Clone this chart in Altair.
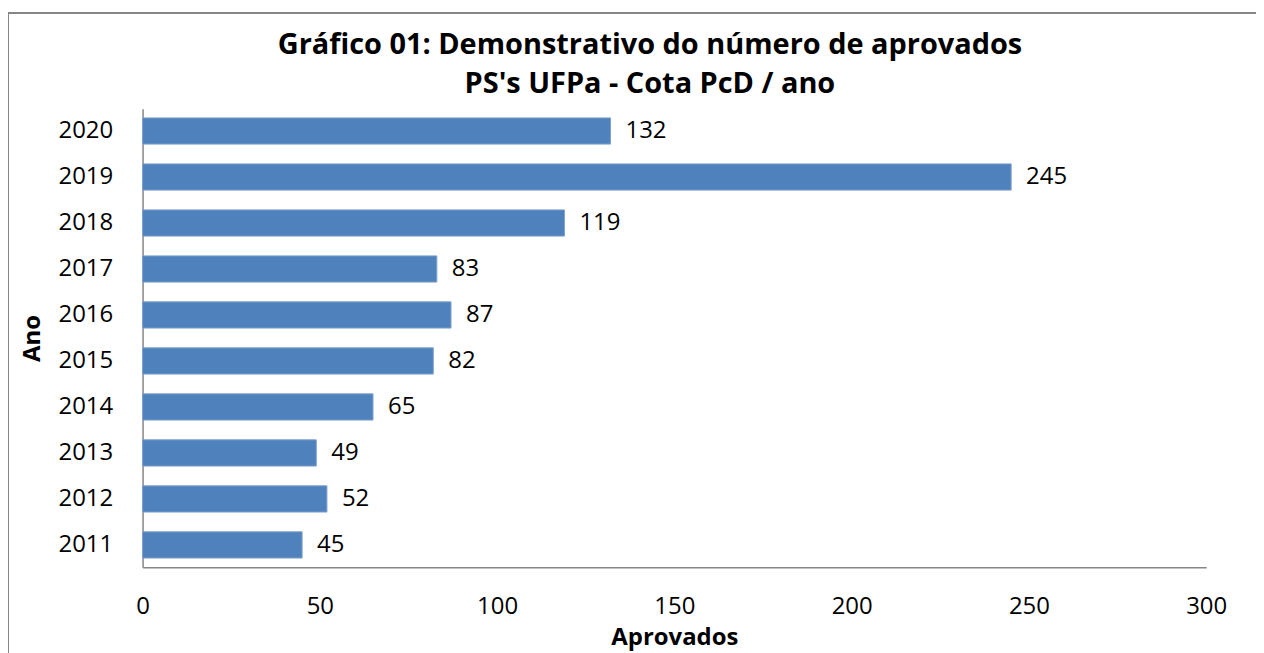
import altair as alt
import pandas as pd

anos = ["2020", "2019", "2018", "2017", "2016", "2015", "2014", "2013", "2012", "2011"]
aprovados = [132, 245, 119, 83, 87, 82, 65, 49, 52, 45]
x_ticks = [0, 50, 100, 150, 200, 250, 300]
titulo = ["Gráfico 01: Demonstrativo do número de aprovados", "PS's UFPa - Cota PcD / ano"]

df = pd.DataFrame({"Ano": anos, "Aprovados": aprovados})

FONT = "Open Sans"
GRAY = "#868686"

base = alt.Chart(df)

bars = base.mark_bar(color="#4F81BD", stroke="#7EA1CE", strokeWidth=1).encode(
    y=alt.Y("Ano:N", sort=anos, scale=alt.Scale(paddingInner=0.43, paddingOuter=0.2),
            axis=alt.Axis(title="Ano", labelPadding=30, ticks=False, domainColor=GRAY,
                          domainWidth=1.5, labelFontSize=24, labelFont=FONT, labelColor="black",
                          titleFontSize=24, titleFont=FONT, titleFontWeight="bold",
                          titleColor="black", titlePadding=14)),
    x=alt.X("Aprovados:Q", scale=alt.Scale(domain=[0, 300]),
            axis=alt.Axis(title="Aprovados", values=x_ticks, grid=False, ticks=False,
                          labelFlush=False,
                          domainColor=GRAY, domainWidth=1.5, labelPadding=27,
                          labelFontSize=24, labelFont=FONT, labelColor="black",
                          titleFontSize=24, titleFont=FONT, titleFontWeight="bold",
                          titleColor="black", titlePadding=8)),
)

labels = base.mark_text(align="left", baseline="middle", dx=15, fontSize=24,
                        font=FONT, color="black").encode(
    y=alt.Y("Ano:N", sort=anos),
    x="Aprovados:Q",
    text="Aprovados:Q",
)

one = alt.Data(values=[{"b": 1}])

border = alt.Chart(one).mark_rect(
    fill=None, stroke=GRAY, strokeWidth=2
).encode(
    x=alt.value(-135), x2=alt.value(1400), y=alt.value(-96), y2=alt.value(700)
)

title1 = alt.Chart(one).mark_text(
    fontSize=29, font=FONT, fontWeight="bold", color="black", align="center", baseline="middle"
).encode(x=alt.value(509), y=alt.value(-64), text=alt.value(titulo[0]))

title2 = alt.Chart(one).mark_text(
    fontSize=29, font=FONT, fontWeight="bold", color="black", align="center", baseline="middle"
).encode(x=alt.value(509), y=alt.value(-25), text=alt.value(titulo[1]))

chart = alt.layer(border, bars, labels, title1, title2).properties(
    width=1067, height=460,
    padding={"left": 135, "top": 100, "right": 50, "bottom": 85},
    autosize=alt.AutoSizeParams(type="none"),
    background="white",
).configure_view(stroke=None)

chart.save("out.html", embed_options={"renderer": "svg", "actions": False})
